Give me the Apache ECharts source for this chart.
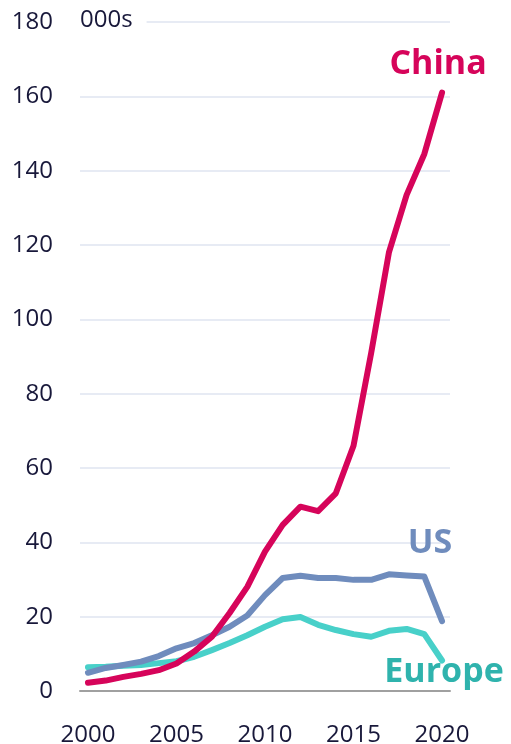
<!DOCTYPE html>
<html>
<head>
<meta charset="UTF-8">
<title>Installations, 000s</title>
<script src="https://cdn.jsdelivr.net/npm/echarts@6/dist/echarts.min.js"></script>
<style>
  html, body { margin: 0; padding: 0; background: #fff; }
  #chart { width: 511px; height: 744px; }
</style>
</head>
<body>
<div id="chart"></div>
<script>
// data (thousands)
var years = [2000, 2001, 2002, 2003, 2004, 2005, 2006, 2007, 2008, 2009, 2010,
             2011, 2012, 2013, 2014, 2015, 2016, 2017, 2018, 2019, 2020];
var china = [2.2, 2.8, 3.8, 4.6, 5.6, 7.4, 10.6, 14.6, 21, 28, 37.5,
             44.7, 49.6, 48.4, 53.2, 66, 91, 118, 133.5, 144.5, 161];
var us = [4.9, 6.2, 7, 7.9, 9.4, 11.5, 12.9, 15, 17.3, 20.3, 25.8,
          30.4, 31, 30.4, 30.4, 29.9, 29.9, 31.4, 31.1, 30.8, 18.8];
var europe = [6.4, 6.5, 6.8, 7, 7.5, 8, 9.2, 11, 12.9, 15, 17.3,
              19.3, 19.9, 17.8, 16.4, 15.3, 14.6, 16.2, 16.7, 15.3, 8.2];
var yTicks = [0, 20, 40, 60, 80, 100, 120, 140, 160, 180];
var xTicks = [2000, 2005, 2010, 2015, 2020];

var FONT = '"Open Sans", sans-serif';
var TEXT = '#18183a';

function pairs(vals) {
  return years.map(function (y, i) { return [y, vals[i]]; });
}

var chart = echarts.init(document.getElementById('chart'));

function makeSeries(name, vals, color, labelColor, offset) {
  return {
    name: name,
    type: 'line',
    data: pairs(vals),
    symbol: 'none',
    smooth: false,
    lineStyle: { color: color, width: 6, cap: 'round', join: 'round' },
    endLabel: {
      show: true,
      formatter: name,
      color: labelColor,
      fontFamily: FONT,
      fontWeight: 'bold',
      fontSize: 34,
      align: 'center',
      verticalAlign: 'middle',
      distance: 0,
      offset: offset
    }
  };
}

chart.setOption({
  animation: false,
  grid: { left: 80, right: 61, top: 22, bottom: 53, outerBoundsMode: 'none', containLabel: false },
  xAxis: {
    type: 'value',
    // a little room either side of 2000 and 2020, as in the original
    min: 1999.55,
    max: 2020.45,
    axisLine: { show: true, onZero: false, lineStyle: { color: '#a0a0a0', width: 2 } },
    axisTick: { show: false },
    splitLine: { show: false },
    axisLabel: {
      customValues: xTicks,
      color: TEXT,
      fontFamily: FONT,
      fontSize: 24,
      margin: 32,
      formatter: function (v) { return String(v); }
    }
  },
  yAxis: {
    type: 'value',
    min: 0,
    max: 180,
    interval: 20,
    axisLine: { show: false },
    axisTick: { show: false },
    splitLine: { lineStyle: { color: '#dfe4f0', width: 1.5 } },
    axisLabel: {
      color: TEXT,
      fontFamily: FONT,
      fontSize: 24,
      margin: 27,
      formatter: function (v) { return yTicks.indexOf(v) >= 0 ? String(v) : ''; }
    }
  },
  graphic: [{
    type: 'text',
    left: 80,
    top: 8,
    z: 100,
    style: {
      text: '000s',
      fill: TEXT,
      font: '24px ' + FONT,
      backgroundColor: '#fff',
      padding: [0, 14, 0, 0]
    }
  }],
  series: [
    makeSeries('Europe', europe, '#48d0c9', '#2fb3ad', [2, 12]),
    makeSeries('US', us, '#6f8cbd', '#6f8cbd', [-12, -78]),
    makeSeries('China', china, '#d6045a', '#d6045a', [-4, -28])
  ]
});
</script>
</body>
</html>
